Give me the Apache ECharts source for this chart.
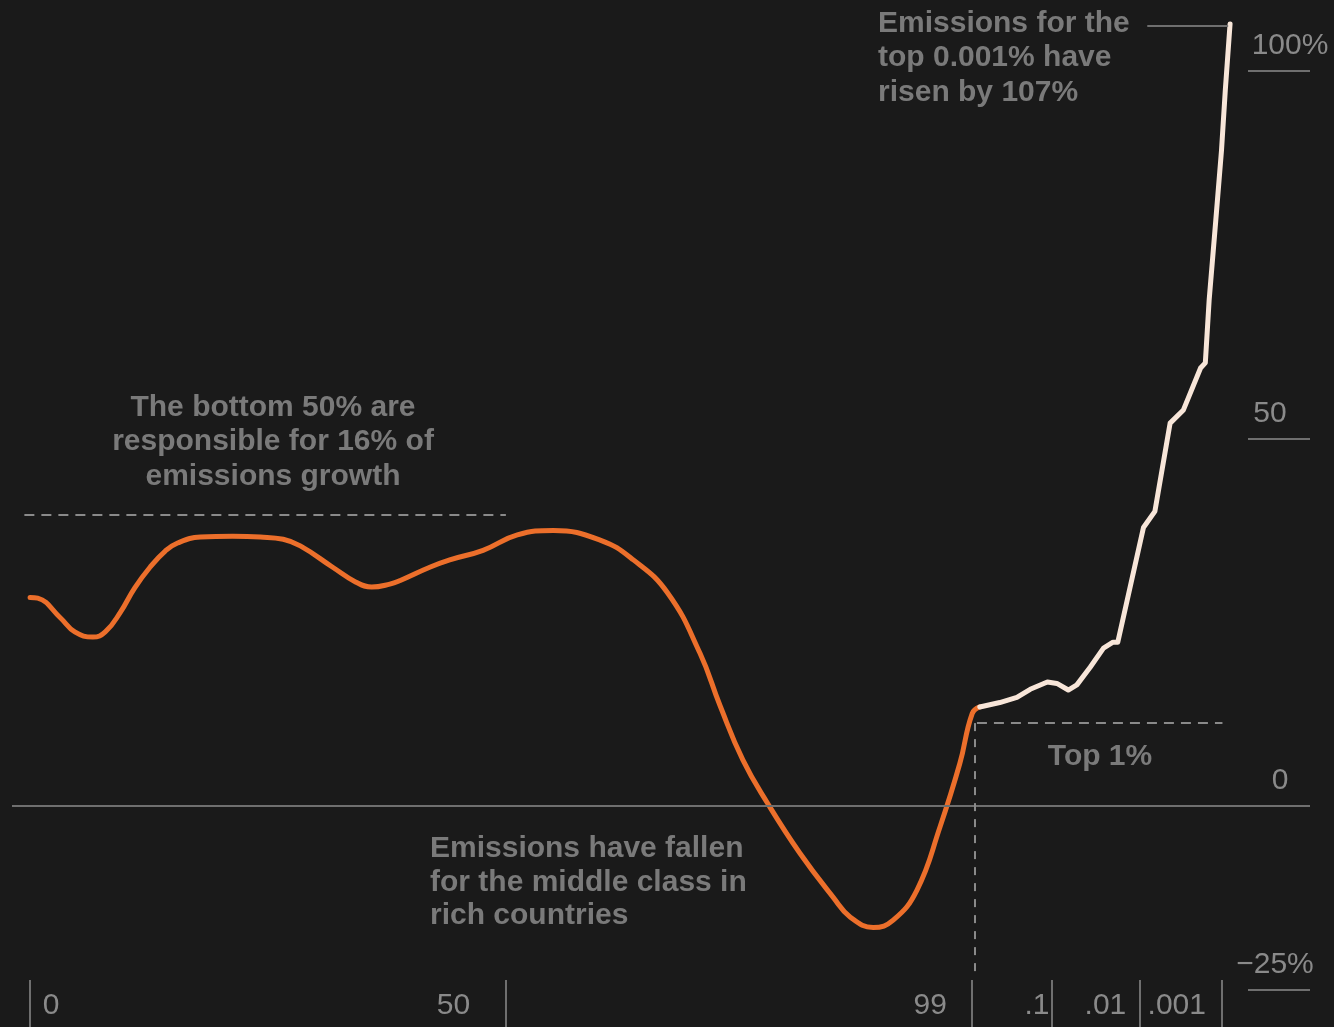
<!DOCTYPE html>
<html>
<head>
<meta charset="utf-8">
<script src="https://cdn.jsdelivr.net/npm/echarts@6/dist/echarts.min.js"></script>
<style>
  html, body { margin: 0; padding: 0; background: #1a1a1a; }
  #chart { width: 1334px; height: 1027px; }
</style>
</head>
<body>
<div id="chart"></div>
<script>
// x position: percentile 0..99 linear, then the top 1% split into .1 / .01 / .001 bands
var lowerPct = [0, 0.8, 3.2, 4.7, 6.6, 7.9, 9.5, 11, 12.6, 14.2, 15.5, 17.9, 21.3, 24.2, 26.6, 28.4, 31.8, 34.2, 35.9, 37.8,
    38.9, 42, 44.1, 47.6, 51.2, 55, 59.9, 63.4, 67, 70.4, 72.5, 74.9, 77.5, 80.9, 84.4, 86.2, 88.6, 90.7, 93.2, 95.6,
    97.7, 99, 99.8];
var lowerGrowth = [28.4, 28.3, 25.6, 23.7, 23.0, 23.7, 26.4, 29.7, 32.5, 34.7, 35.8, 36.6, 36.7, 36.6, 36.3, 35.4, 32.5, 30.5, 29.8, 30.2,
    30.7, 32.5, 33.5, 34.8, 36.9, 37.5, 36.2, 33.5, 29.0, 20.8, 13.7, 6.3, 0.4, -6.4, -12.4, -15.1, -16.5, -15.5, -11.4, -2.9,
    5.8, 12.6, 13.5];

var topPos = [99.8, 101.9, 103.7, 105.1, 106.9, 107.9, 109.1, 110.0, 111.4, 112.8, 113.8, 114.3, 117.0, 118.2, 119.8,
    121.2, 123.0, 123.5, 123.9, 124.6, 125.2, 125.6, 126.1];
var topGrowth = [13.5, 14.1, 14.8, 15.9, 16.9, 16.7, 15.8, 16.5, 18.9, 21.5, 22.3, 22.3, 37.9, 40.1, 52.1,
    53.9, 59.6, 60.3, 68.8, 79.7, 89.2, 97.4, 106.4];

var xTickPos = [0, 50, 99, 107.4, 116.6, 125.2];
var xLabelPos = [2.2, 44.5, 94.6, 105.8, 113.0, 120.5];
var xLabels = ['0', '50', '99', '.1', '.01', '.001'];

var yTicks = [-25, 0, 50, 100];
var yLabels = { '100': '{a|100%}', '50': '{b|50}', '0': '{c|0}', '-25': '{d|\u221225%}' };

var bottomAvg = 39.7;   // dashed line over the bottom 50%
var topBand = 11.3;     // dashed box marking the top 1%
var topValue = 106.1;   // leader to the 0.001% label

var chart = echarts.init(document.getElementById('chart'));

var lowerData = lowerPct.map(function (p, i) { return [p, lowerGrowth[i]]; });
var topData = topPos.map(function (p, i) { return [p, topGrowth[i]]; });

var grey = '#6f6f6f';
var labelGrey = '#8a8a8a';
var noteGrey = '#7a7a7a';
var noteFont = 'bold 30px "Liberation Sans", Arial, sans-serif';

var option = {
    backgroundColor: '#1a1a1a',
    animation: false,
    // y range runs to 107 so the top point and its leader stay inside the grid
    grid: { left: 12, right: 24, top: 19.5, bottom: 37 },
    xAxis: {
        type: 'value',
        min: -1.9,
        max: 134.5,
        offset: -10,
        axisLine: { show: false, onZero: false },
        splitLine: { show: false },
        axisTick: {
            show: true,
            customValues: xTickPos,
            length: 47,
            lineStyle: { color: grey, width: 2 }
        },
        axisLabel: {
            customValues: xLabelPos,
            margin: 11,
            color: labelGrey,
            fontSize: 30,
            fontFamily: '"Liberation Sans", Arial, sans-serif',
            formatter: function (v) {
                var i = xLabelPos.indexOf(v);
                return i >= 0 ? xLabels[i] : '';
            }
        }
    },
    yAxis: {
        type: 'value',
        position: 'right',
        min: -25,
        max: 107,
        axisLine: { show: false, onZero: false },
        splitLine: { show: false },
        axisTick: {
            show: true,
            inside: true,
            length: 62,
            customValues: yTicks,
            lineStyle: { color: grey, width: 2 }
        },
        axisLabel: {
            customValues: yTicks,
            margin: -30,
            align: 'center',
            verticalAlign: 'bottom',
            color: labelGrey,
            fontSize: 30,
            fontFamily: '"Liberation Sans", Arial, sans-serif',
            formatter: function (v) { return yLabels[String(v)] || ''; },
            rich: {
                a: { fontSize: 30, color: labelGrey, padding: [0, 0, 10, 20] },
                b: { fontSize: 30, color: labelGrey, padding: [0, 20, 10, 0] },
                c: { fontSize: 30, color: labelGrey, padding: [0, 0, 10, 0] },
                d: { fontSize: 30, color: labelGrey, padding: [0, 10, 10, 0] }
            }
        }
    },
    series: [{
        name: 'bottom 99%',
        type: 'line',
        data: lowerData,
        smooth: 0.45,
        showSymbol: false,
        clip: false,
        z: 3,
        lineStyle: { color: '#ec6f2b', width: 5, cap: 'round' },
        markLine: {
            silent: true,
            symbol: ['none', 'none'],
            label: { show: false },
            animation: false,
            data: [
                { yAxis: 0, lineStyle: { color: grey, width: 2, type: 'solid' } },
                [{ coord: [-0.6, bottomAvg], lineStyle: { color: '#8a8a8a', width: 2, type: [10, 7] } }, { coord: [50, bottomAvg] }],
                [{ coord: [99.5, topBand], lineStyle: { color: '#8a8a8a', width: 2, type: [10, 7] } }, { coord: [125.3, topBand] }],
                [{ coord: [99.3, topBand], lineStyle: { color: '#8a8a8a', width: 2, type: [8, 8] } }, { coord: [99.3, -23.5] }],
                [{ coord: [117.4, topValue], lineStyle: { color: grey, width: 2, type: 'solid' } }, { coord: [125.9, topValue] }]
            ]
        }
    }, {
        name: 'top 1%',
        type: 'line',
        data: topData,
        showSymbol: false,
        clip: false,
        z: 4,
        lineStyle: { color: '#f8e6d9', width: 5, cap: 'round', join: 'round' }
    }],
    graphic: [{
        type: 'text', x: 878, y: 6,
        style: { text: 'Emissions for the\ntop 0.001% have\nrisen by 107%', font: noteFont, fill: noteGrey, lineHeight: 34.5 }
    }, {
        type: 'text', x: 273, y: 390,
        style: { text: 'The bottom 50% are\nresponsible for 16% of\nemissions growth', font: noteFont, fill: noteGrey, lineHeight: 34.5, align: 'center' }
    }, {
        type: 'text', x: 430, y: 832,
        style: { text: 'Emissions have fallen\nfor the middle class in\nrich countries', font: noteFont, fill: noteGrey, lineHeight: 33.5 }
    }, {
        type: 'text', x: 1100, y: 740,
        style: { text: 'Top 1%', font: noteFont, fill: noteGrey, lineHeight: 34, align: 'center' }
    }]
};

chart.setOption(option);
</script>
</body>
</html>
